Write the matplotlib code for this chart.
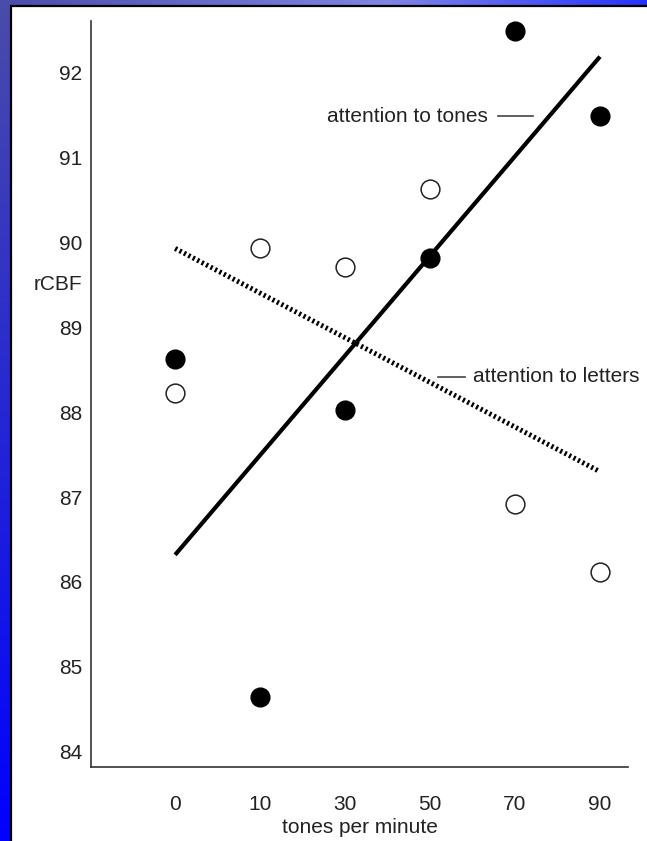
import numpy as np
import matplotlib.pyplot as plt
from matplotlib.patches import Rectangle

plt.rcParams['font.family'] = ['Liberation Sans', 'DejaVu Sans']

# tones per minute (categorical, equally spaced on the axis)
rates = ['0', '10', '30', '50', '70', '90']
# rCBF while attending to tones (filled dots)
tones_vals = [88.63, 84.65, 88.03, 89.82, 92.49, 91.49]
# rCBF while attending to letters (open dots)
letters_vals = [88.23, 89.93, 89.71, 90.63, 86.92, 86.12]
# fitted lines, start and end values at 0 and 90 tones/min
tones_fit = [86.32, 92.19]
letters_fit = [89.93, 87.30]
yticks = [84, 85, 86, 87, 88, 89, 90, 91, 92]

W, H = 647, 841
fig = plt.figure(figsize=(W / 100, H / 100), dpi=100)

# slide background: blue gradient bands on left and top
bg = fig.add_axes([0, 0, 1, 1])
bg.set_axis_off()
img = np.ones((H, W, 3))
slate = np.array([0.29, 0.30, 0.66])
pure = np.array([0.0, 0.0, 1.0])
t = np.linspace(0, 1, H)[:, None]
img[:, :12] = (slate * (1 - t) + pure * t)[:, None, :].repeat(12, axis=1)
s = np.linspace(0, 1, W)[:, None]
light = np.array([0.50, 0.52, 0.90])
bright = np.array([0.15, 0.20, 1.0])
top = np.where(s < 0.6, slate * (1 - s / 0.6) + light * (s / 0.6),
               light * (1 - (s - 0.6) / 0.4) + bright * ((s - 0.6) / 0.4))
img[:6, :] = top[None, :, :]
img[:6, :12] = slate
bg.imshow(img, aspect='auto', extent=[0, W, H, 0])
bg.add_patch(Rectangle((11, 6), W, H, facecolor='white', edgecolor='black', lw=1.6))
bg.set_xlim(0, W)
bg.set_ylim(H, 0)

ax = fig.add_axes([91 / W, 1 - 767 / H, (628 - 91) / W, (767 - 21) / H])
ax.patch.set_alpha(0)
x = np.arange(len(rates))

ax.plot([x[0], x[-1]], tones_fit, color='black', lw=3, solid_capstyle='butt')
ax.plot([x[0], x[-1]], letters_fit, color='black', lw=3.6, linestyle=(0, (0.45, 0.55)))
ax.plot(x, tones_vals, 'o', color='black', markersize=13.5)
ax.plot(x, letters_vals, 'o', markerfacecolor='white', markeredgecolor='#222222',
        markeredgewidth=1.1, markersize=13.5)

fs = 15
ax.text(3.68, 91.48, 'attention to tones', ha='right', va='center', fontsize=fs, color='#222222')
ax.plot([3.80, 4.21], [91.49, 91.49], color='#444444', lw=1.2)
ax.plot([3.09, 3.41], [88.42, 88.42], color='#444444', lw=1.2)
ax.text(3.51, 88.42, 'attention to letters', ha='left', va='center', fontsize=fs, color='#222222')

ax.set_xlim(-0.99, 5.33)
ax.set_ylim(83.82, 92.61)
ax.set_xticks(x)
ax.set_xticklabels(rates)
ax.set_yticks(yticks)
ax.tick_params(length=0, labelsize=fs, colors='#222222')
ax.tick_params(axis='y', pad=6.5)
ax.tick_params(axis='x', pad=20)
ax.set_xlabel('tones per minute', fontsize=fs, color='#222222', labelpad=3)
ax.text(-0.017, 89.5, 'rCBF', transform=ax.get_yaxis_transform(), ha='right', va='center',
        fontsize=fs, color='#222222')
for side in ['top', 'right']:
    ax.spines[side].set_visible(False)
for side in ['left', 'bottom']:
    ax.spines[side].set_color('#333333')
    ax.spines[side].set_linewidth(1.2)

fig.savefig('out.png', dpi=100)
